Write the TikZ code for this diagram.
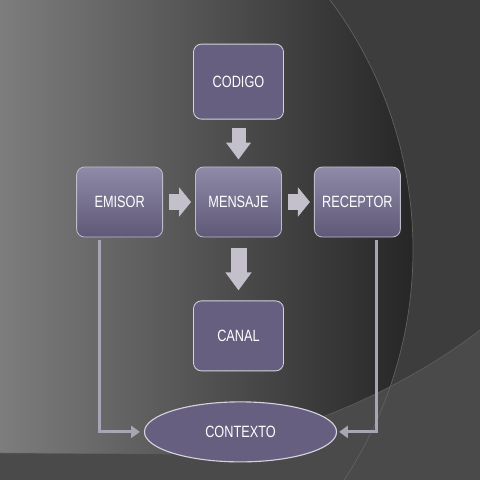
\documentclass[tikz,border=0pt]{standalone}
\usepackage{fontspec}
\setmainfont{Liberation Sans}
\usetikzlibrary{positioning, arrows.meta, shapes.geometric}

\definecolor{boxfill}{HTML}{665F80}
\definecolor{boxtop}{HTML}{8F8AA7}
\definecolor{boxbot}{HTML}{5F5977}
\definecolor{boxline}{HTML}{D4D2DE}
\definecolor{flowgray}{HTML}{C3C0CB}
\definecolor{linkgray}{HTML}{A8A5B4}
\newcommand{\boxtext}[1]{\scalebox{0.78}[1]{#1}}

\begin{document}
\begin{tikzpicture}[x=0.025cm, y=-0.025cm]
                \tikzstyle{flat} = [rectangle, rounded corners=0.2cm, draw=boxline, fill=boxfill, line width=0.6pt, text=white, font=\fontsize{11.6}{14}\selectfont, inner sep=0pt]
                \tikzstyle{row} = [rectangle, rounded corners=0.2cm, draw=boxline!80!boxfill, top color=boxtop, bottom color=boxbot, line width=0.6pt, text=white, font=\fontsize{11.6}{14}\selectfont, inner sep=0pt, minimum width=2.15cm, minimum height=1.75cm]
                \tikzstyle{oval} = [ellipse, draw=boxline, fill=boxfill, line width=0.8pt, text=white, font=\fontsize{11.6}{14}\selectfont, inner sep=0pt, minimum width=4.8cm, minimum height=1.5cm]
                \tikzstyle{link} = [draw=linkgray, line width=2.1pt, -{Triangle[length=0.22cm, width=0.3cm]}]

                % Background
                \useasboundingbox (0,0) rectangle (480,480);
                \fill[black!76] (0,0) rectangle (480,480);
                \begin{scope}
                    \clip (-5,250) circle (418);
                    \shade[left color=black!51, right color=black!85] (0,0) rectangle (413,480);
                \end{scope}
                \fill[black!71] (0,453) -- (170,454) .. controls (280,444) and (400,392) .. (480,330) -- (480,480) -- (0,480) -- cycle;
                \draw[black!62, line width=0.5pt] (-5,250) circle (418);
                \draw[black!62, line width=0.4pt] (0,453) -- (170,454) .. controls (280,444) and (400,392) .. (480,330);

                % Middle row
                \node[row] (mensaje) at (238.5,202) {\boxtext{MENSAJE}};
                \node[row] (emisor) [left=0.8cm of mensaje] {\boxtext{EMISOR}};
                \node[row] (receptor) [right=0.8cm of mensaje] {\boxtext{RECEPTOR}};

                % Top and bottom
                \node[flat, minimum width=2.25cm, minimum height=1.875cm] (codigo) [above=1.175cm of mensaje] {\boxtext{CODIGO}};
                \node[flat, minimum width=2.25cm, minimum height=1.75cm] (canal) [below=1.575cm of mensaje] {\boxtext{CANAL}};
                \node[oval] (contexto) [below=0.75cm of canal, xshift=0.05cm] {\boxtext{CONTEXTO}};

                % Block arrows
                \draw[flowgray, line width=0.35cm, -{Triangle[length=0.425cm, width=0.6cm]}, shorten <=0.2cm, shorten >=0.175cm] (codigo) -- (mensaje);
                \draw[flowgray, line width=0.4cm, -{Triangle[length=0.45cm, width=0.625cm]}, shorten <=0.275cm, shorten >=0.25cm] (mensaje) -- (canal);
                \draw[flowgray, line width=0.42cm, -{Triangle[length=0.3cm, width=0.72cm]}, shorten <=0.15cm, shorten >=0.1cm] (emisor) -- (mensaje);
                \draw[flowgray, line width=0.42cm, -{Triangle[length=0.3cm, width=0.72cm]}, shorten <=0.15cm, shorten >=0.1cm] (mensaje) -- (receptor);

                % Lines to the context
                \draw[link, shorten <=0.075cm, shorten >=0.1cm] ([xshift=-0.5cm]emisor.south) |- (contexto.west);
                \draw[link, shorten <=0.075cm, shorten >=0.05cm] ([xshift=0.475cm]receptor.south) |- (contexto.east);
            \end{tikzpicture}
\end{document}
